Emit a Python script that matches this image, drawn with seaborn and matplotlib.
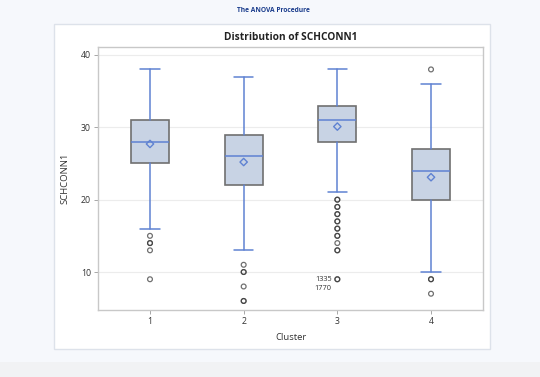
import matplotlib
matplotlib.use("Agg")
import matplotlib.pyplot as plt
from matplotlib.patches import Rectangle
import seaborn as sns
import pandas as pd

# Box statistics
clusters = ["1", "2", "3", "4"]
whisker_low = [16, 13, 21, 10]
q1 = [25, 22, 28, 20]
medians = [28, 26, 31, 24]
q3 = [31, 29, 33, 27]
whisker_high = [38, 37, 38, 36]
means = [27.7, 25.2, 30.1, 23.1]
# outliers (repeated values drawn twice -> darker circle)
outliers = [
    [15, 14, 14, 13, 9],
    [11, 10, 10, 8, 6, 6],
    [20, 20, 19, 19, 18, 18, 17, 17, 16, 16, 15, 15, 14, 13, 13, 9, 9],
    [38, 9, 9, 7],
]
obs_labels = ["1335", "1770"]

sns.set_style("white")
plt.rcParams["font.family"] = ["Open Sans", "DejaVu Sans"]

fig = plt.figure(figsize=(5.4, 3.77), dpi=100)
fig.patch.set_facecolor("#f6f8fc")

# white output panel + bottom strip
fig.add_artist(Rectangle((54 / 540, 1 - 349 / 377), 436 / 540, 325 / 377,
                         transform=fig.transFigure, facecolor="white",
                         edgecolor="#dde2ea", lw=1, zorder=0))
fig.add_artist(Rectangle((0, 0), 1, 15 / 377, transform=fig.transFigure,
                         facecolor="#f1f2f4", edgecolor="none", zorder=0))

ax = fig.add_axes([98 / 540, 1 - 310 / 377, 385 / 540, 263 / 377])

stats = []
for i, c in enumerate(clusters):
    stats.append(dict(label=c, whislo=whisker_low[i], q1=q1[i], med=medians[i],
                      q3=q3[i], whishi=whisker_high[i], fliers=[]))

blue = "#5f82d2"
ax.bxp(stats, positions=range(len(clusters)), widths=0.405, showfliers=False,
       patch_artist=True, capwidths=0.21,
       boxprops=dict(facecolor="#c8d3e4", edgecolor="#707070", lw=1.2),
       whiskerprops=dict(color=blue, lw=1.1),
       capprops=dict(color=blue, lw=1.1),
       medianprops=dict(color=blue, lw=1.1))

out_df = pd.DataFrame([(i, v) for i, vals in enumerate(outliers) for v in vals],
                      columns=["pos", "value"])
sns.scatterplot(data=out_df, x="pos", y="value", ax=ax, marker="o", s=12,
                facecolor="none", edgecolor="#333333", linewidth=0.9,
                alpha=0.7, zorder=4)

mean_df = pd.DataFrame({"pos": range(len(clusters)), "value": means})
sns.scatterplot(data=mean_df, x="pos", y="value", ax=ax, marker="D", s=14,
                facecolor="none", edgecolor=blue, linewidth=1.0, zorder=5)

# observation labels for cluster 3 outlier
ax.text(2 - 0.06, 9, obs_labels[0], ha="right", va="center", fontsize=5.3, color="#333333")
ax.text(2 - 0.06, 7.7, obs_labels[1], ha="right", va="center", fontsize=5.3, color="#333333")

ax.set_xlim(-0.555, 3.555)
ax.set_ylim(4.75, 41.1)
ax.set_xticks(range(len(clusters)))
ax.set_xticklabels(clusters)
ax.set_yticks([10, 20, 30, 40])
ax.yaxis.grid(True, color="#ececec", lw=0.8)
ax.set_axisbelow(True)
for s in ax.spines.values():
    s.set_color("#c8c8c8")
    s.set_linewidth(1)
ax.tick_params(axis="both", labelsize=6.3, colors="#333333", length=3,
               width=0.6, direction="out", left=True, bottom=True, pad=2)
ax.tick_params(axis="both", color="#999999")
ax.set_xlabel("Cluster", fontsize=6.8, color="#333333", labelpad=5)
ax.set_ylabel("SCHCONN1", fontsize=6.8, color="#333333", labelpad=8)

fig.text(0.538, 1 - 37 / 377, "Distribution of SCHCONN1", ha="center", va="center",
         fontsize=7.3, fontweight="bold", color="#222222")
fig.text(273 / 540, 1 - 10 / 377, "The ANOVA Procedure", ha="center", va="center",
         fontsize=4.8, fontweight="bold", color="#1a3c8c")

fig.savefig("out.png", dpi=100, facecolor=fig.get_facecolor())
